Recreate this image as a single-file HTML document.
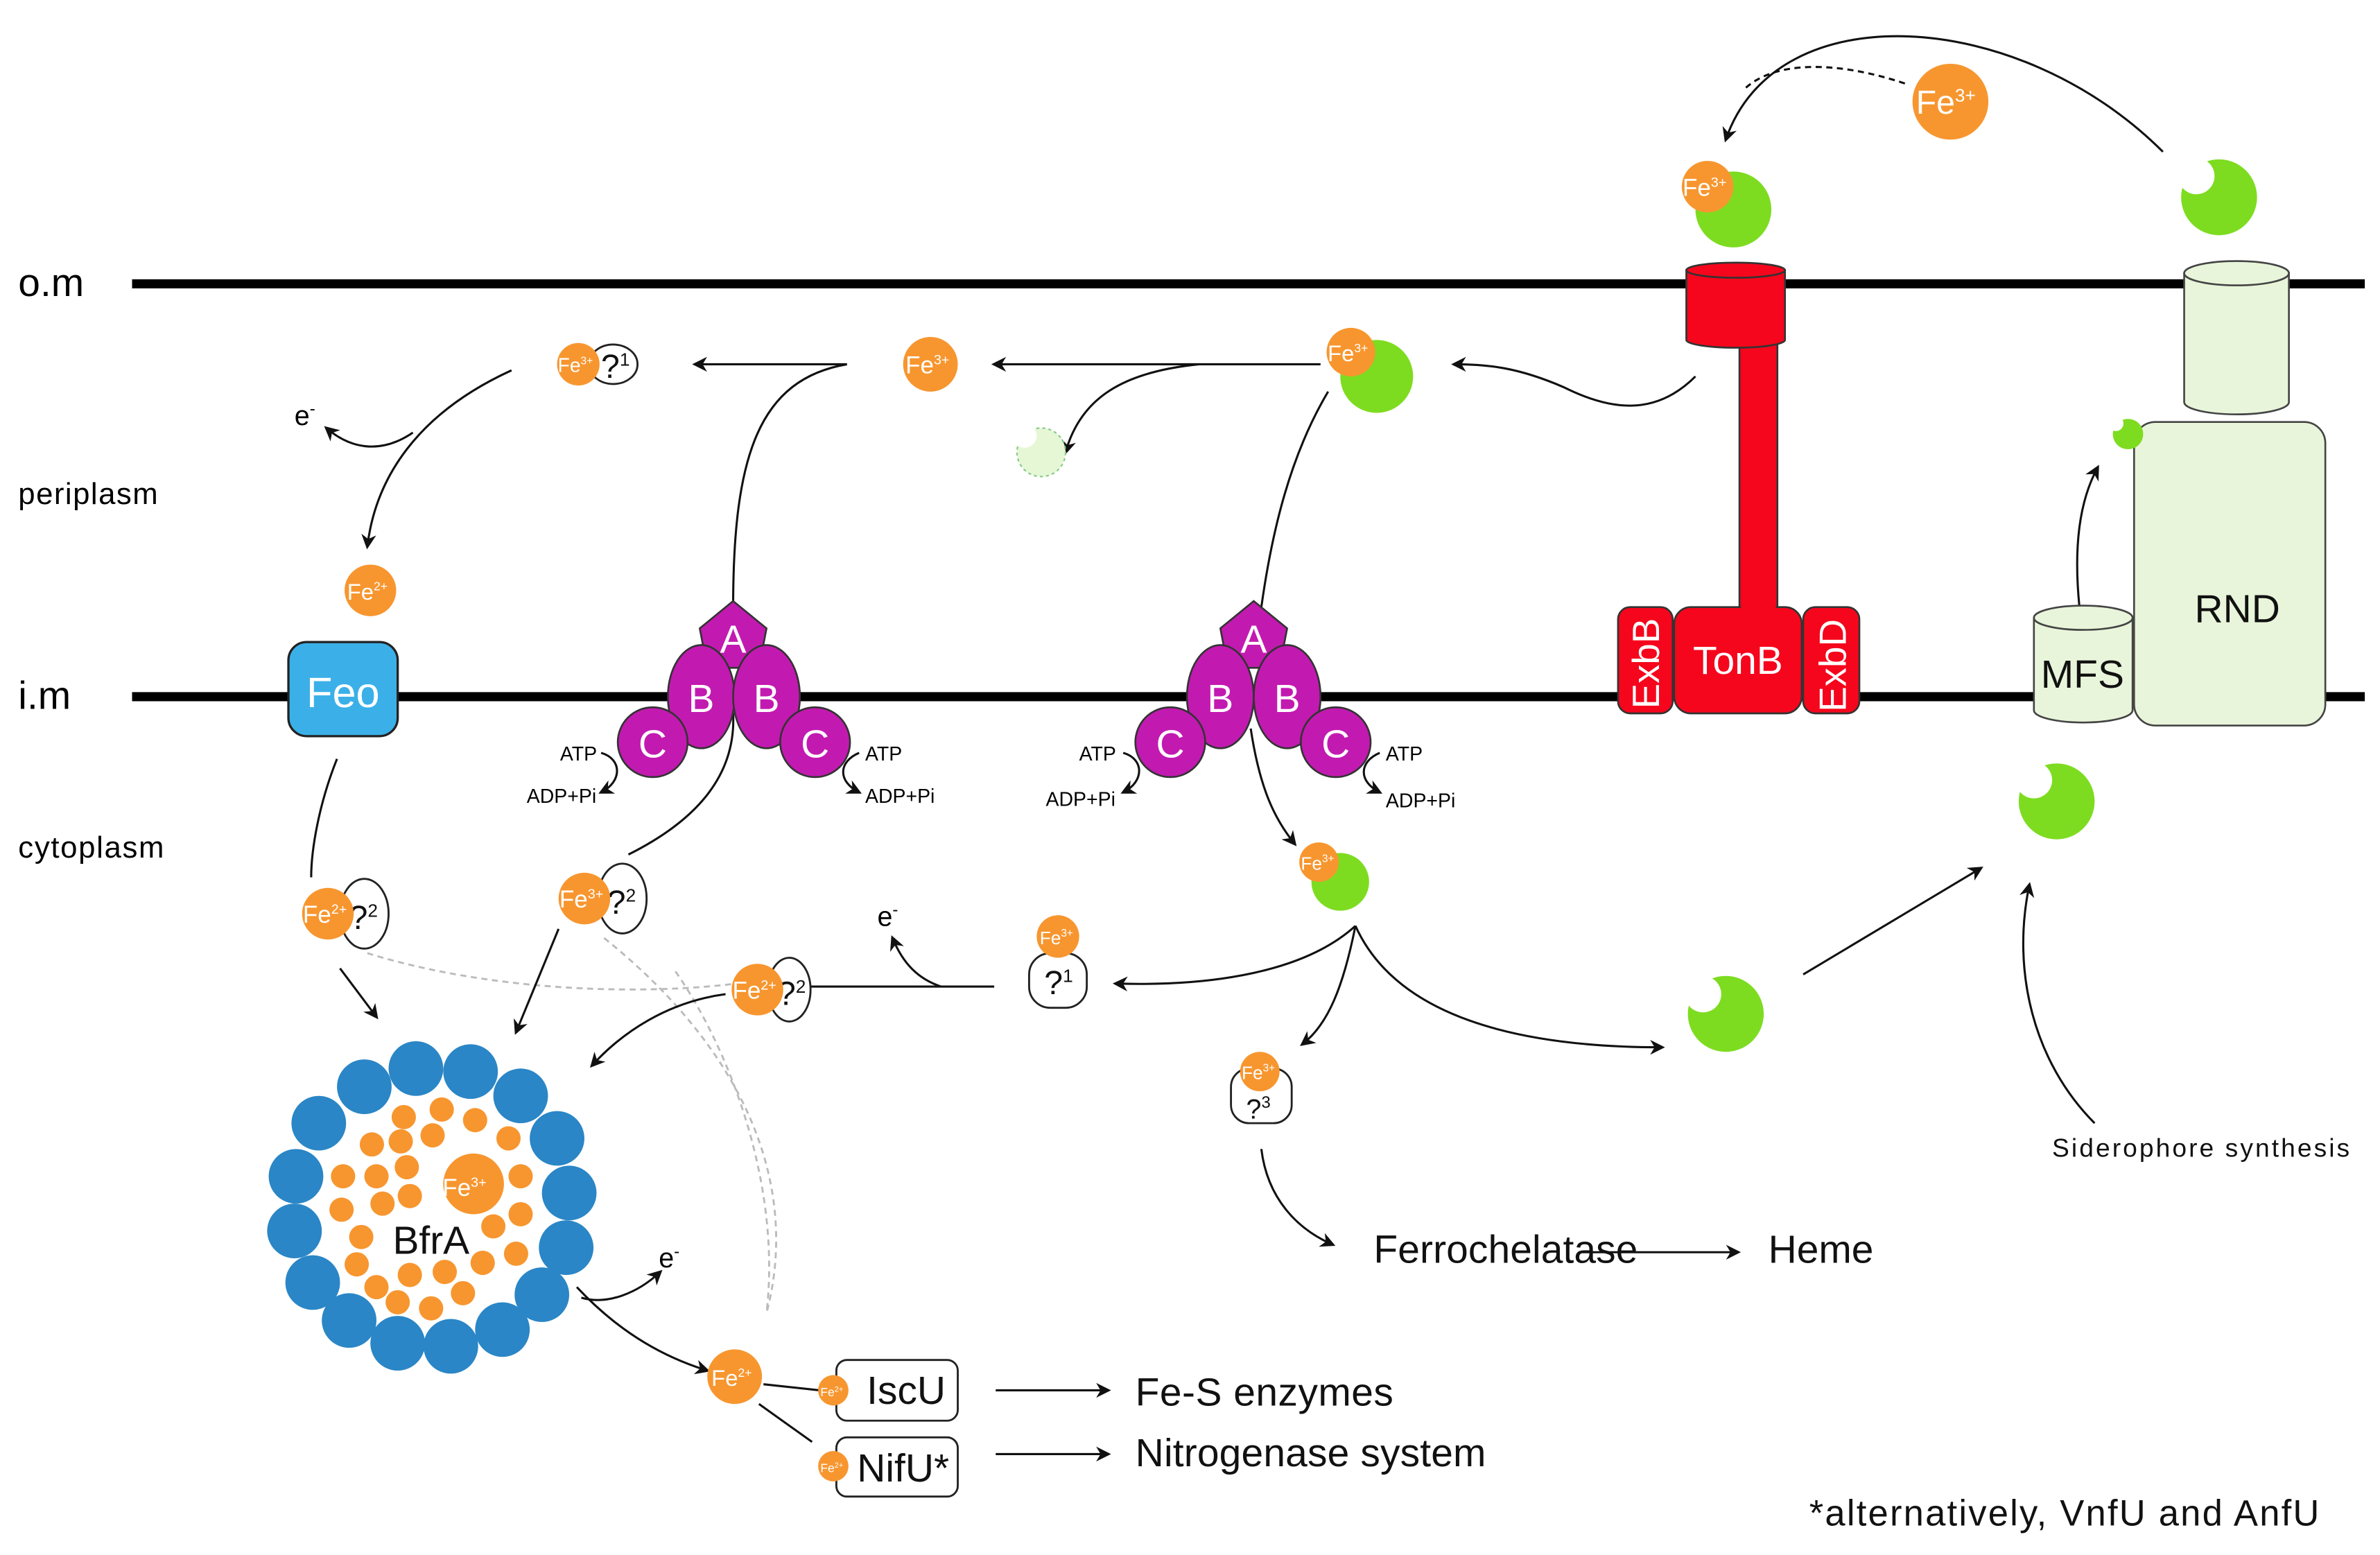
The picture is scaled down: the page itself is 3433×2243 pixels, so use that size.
<!DOCTYPE html>
<html><head><meta charset="utf-8"><style>
html,body{margin:0;padding:0;background:#fff;}
svg{display:block;}
text{font-family:"Liberation Sans",sans-serif;}
</style></head><body>
<svg width="3433" height="2243" viewBox="0 0 1568 1024.5" xmlns="http://www.w3.org/2000/svg">
<defs>
<marker id="ah" viewBox="0 0 10 10" refX="8" refY="5" markerWidth="7" markerHeight="7" orient="auto-start-reverse"><path d="M0,0 L10,5 L0,10 L3,5 z" fill="#111"/></marker>
</defs>
<rect width="1568" height="1025" fill="#fff"/>
<rect x="87" y="184" width="1471" height="6" fill="#000"/>
<rect x="87" y="456" width="1471" height="6" fill="#000"/>
<text x="12" y="195" font-size="26">o.m</text>
<text x="12" y="332" font-size="20" textLength="92">periplasm</text>
<text x="12" y="467" font-size="26">i.m</text>
<text x="12" y="565" font-size="20" textLength="96">cytoplasm</text>

<g fill="none" stroke="#bbb" stroke-width="1.3" stroke-dasharray="4,3">
<path d="M242,628 C330,655 430,655 485,648"/>
<path d="M398,618 C500,700 525,790 505,865"/>
<path d="M445,640 C480,690 515,780 505,865"/>
</g>

<g fill="none" stroke="#111" stroke-width="1.4">
<path d="M558,240 L458,240" marker-end="url(#ah)"/>
<path d="M558,240 C500,250 483,300 483,400"/>
<path d="M870,240 L655,240" marker-end="url(#ah)"/>
<path d="M790,240 C740,245 712,262 702,298" marker-end="url(#ah)"/>
<path d="M875,258 C850,300 838,350 831,400"/>
<path d="M1117,248 C1090,275 1060,270 1030,255 C1000,242 980,240 958,240" marker-end="url(#ah)"/>
<path d="M1425,100 C1330,5 1170,-5 1137,92" marker-end="url(#ah)"/>
<path d="M1255,55 C1210,40 1170,40 1150,58" stroke-dasharray="4,3"/>
<path d="M337,244 C280,270 248,310 242,360" marker-end="url(#ah)"/>
<path d="M272,285 C250,300 230,295 215,282" marker-end="url(#ah)"/>
<path d="M222,500 C210,530 205,560 205,578"/>
<path d="M224,638 L248,670" marker-end="url(#ah)"/>
<path d="M414,563 C460,540 485,510 483,470"/>
<path d="M368,612 L340,680" marker-end="url(#ah)"/>
<path d="M478,655 C440,660 410,680 390,702" marker-end="url(#ah)"/>
<path d="M533,650 L655,650"/>
<path d="M620,650 C605,645 595,635 588,618" marker-end="url(#ah)"/>
<path d="M893,610 C860,640 800,650 735,648" marker-end="url(#ah)"/>
<path d="M824,480 C830,520 840,540 853,556" marker-end="url(#ah)"/>
<path d="M893,610 C920,670 1000,690 1095,690" marker-end="url(#ah)"/>
<path d="M893,610 C885,650 875,675 858,688" marker-end="url(#ah)"/>
<path d="M831,757 C835,790 855,810 878,820" marker-end="url(#ah)"/>
<path d="M1040,825 L1145,825" marker-end="url(#ah)"/>
<path d="M1188,642 L1305,572" marker-end="url(#ah)"/>
<path d="M1380,740 C1340,700 1325,640 1337,583" marker-end="url(#ah)"/>
<path d="M1370,400 C1366,360 1370,330 1382,308" marker-end="url(#ah)"/>
<path d="M383,855 C400,860 420,852 435,838" marker-end="url(#ah)"/>
<path d="M380,848 C410,880 440,895 466,903" marker-end="url(#ah)"/>
<path d="M503,912 L540,916"/>
<path d="M500,925 L535,950"/>
<path d="M656,916 L730,916" marker-end="url(#ah)"/>
<path d="M656,958 L730,958" marker-end="url(#ah)"/>
<path d="M396,496 C410,500 410,515 396,522" marker-end="url(#ah)"/>
<path d="M566,496 C552,502 552,515 566,522" marker-end="url(#ah)"/>
<path d="M740,496 C754,500 754,515 740,522" marker-end="url(#ah)"/>
<path d="M909,496 C895,502 895,515 909,522" marker-end="url(#ah)"/>
</g>
<g font-size="13" fill="#000">
<text x="369" y="501">ATP</text><text x="347" y="529">ADP+Pi</text>
<text x="570" y="501">ATP</text><text x="570" y="529">ADP+Pi</text>
<text x="711" y="501">ATP</text><text x="689" y="531">ADP+Pi</text>
<text x="913" y="501">ATP</text><text x="913" y="532">ADP+Pi</text>
</g>
<g font-size="18" fill="#000">
<text x="194" y="280">e<tspan dy="-7" font-size="11">-</tspan></text>
<text x="578" y="610">e<tspan dy="-7" font-size="11">-</tspan></text>
<text x="434" y="835">e<tspan dy="-7" font-size="11">-</tspan></text>
</g>

<rect x="190" y="423" width="72" height="62" rx="12" fill="#3bb0e8" stroke="#222" stroke-width="1.5"/>
<text x="226" y="466" font-size="28" fill="#fff" text-anchor="middle">Feo</text>

<g fill="#c21ab0" stroke="#333" stroke-width="1.2">
<path d="M483,396 L505,414 L500,440 L466,440 L461,414 z"/>
<ellipse cx="462" cy="459" rx="22" ry="34"/><ellipse cx="505" cy="459" rx="22" ry="34"/>
<circle cx="430" cy="489" r="23"/><circle cx="537" cy="489" r="23"/>
<path d="M826,396 L848,414 L843,440 L809,440 L804,414 z"/>
<ellipse cx="804" cy="459" rx="22" ry="34"/><ellipse cx="848" cy="459" rx="22" ry="34"/>
<circle cx="771" cy="489" r="23"/><circle cx="880" cy="489" r="23"/>
</g>
<g fill="#fff" font-size="26" text-anchor="middle">
<text x="483" y="430">A</text><text x="462" y="469">B</text><text x="505" y="469">B</text><text x="430" y="499">C</text><text x="537" y="499">C</text>
<text x="826" y="430">A</text><text x="804" y="469">B</text><text x="848" y="469">B</text><text x="771" y="499">C</text><text x="880" y="499">C</text>
</g>

<g fill="#f5061c" stroke="#333" stroke-width="1.2">
<rect x="1146" y="225" width="25" height="185"/>
<path d="M1111,178 L1111,224 A32,5 0 0 0 1176,224 L1176,178 Z"/>
<ellipse cx="1143.5" cy="178" rx="32.5" ry="5"/>
<rect x="1066" y="400" width="36" height="70" rx="8"/>
<rect x="1103" y="400" width="84" height="70" rx="11"/>
<rect x="1188" y="400" width="37" height="70" rx="8"/>
</g>
<rect x="1147" y="398" width="23" height="6" fill="#f5061c"/>
<text x="1145" y="444" font-size="26" fill="#fff" text-anchor="middle">TonB</text>
<text transform="translate(1093,467) rotate(-90)" font-size="25" fill="#fff">ExbB</text>
<text transform="translate(1216,469) rotate(-90)" font-size="25" fill="#fff">ExbD</text>

<g fill="#e8f5da" stroke="#444" stroke-width="1.2">
<rect x="1406" y="278" width="126" height="200" rx="14"/>
<path d="M1439,180 L1439,265 A34.5,8 0 0 0 1508,265 L1508,180 Z"/>
<ellipse cx="1473.5" cy="180" rx="34.5" ry="8"/>
<path d="M1340,407 L1340,468 A32.5,8 0 0 0 1405,468 L1405,407 Z"/>
<ellipse cx="1372.5" cy="407" rx="32.5" ry="8"/>
</g>
<text x="1474" y="410" font-size="26" fill="#111" text-anchor="middle">RND</text>
<text x="1372" y="453" font-size="26" fill="#111" text-anchor="middle">MFS</text>

<g fill="#7ddc20">
<circle cx="1142" cy="138" r="25"/>
<circle cx="1462" cy="130" r="25"/>
<circle cx="907" cy="248" r="24"/>
<circle cx="1355" cy="528" r="25"/>
<circle cx="1137" cy="668" r="25"/>
<circle cx="883" cy="581" r="19"/>
<circle cx="1402" cy="286" r="10"/>
</g>
<circle cx="686" cy="298" r="16" fill="#e6f7d6" stroke="#8c8" stroke-dasharray="2,2"/>
<g fill="#fff">
<circle cx="1447" cy="116" r="12"/>
<circle cx="1340" cy="514" r="12"/>
<circle cx="1122" cy="655" r="12"/>
<circle cx="1394" cy="279" r="5"/>
<circle cx="675" cy="287" r="8"/>
</g>

<g fill="#fff" stroke="#222" stroke-width="1.3">
<ellipse cx="404" cy="240" rx="16" ry="13"/>
<ellipse cx="240" cy="602" rx="16" ry="23"/>
<ellipse cx="410" cy="592" rx="16" ry="23"/>
<ellipse cx="520" cy="652" rx="14" ry="21"/>
<rect x="678" y="628" width="38" height="36" rx="14"/>
<rect x="811" y="704" width="40" height="36" rx="12"/>
<rect x="551" y="896" width="80" height="40" rx="7"/>
<rect x="551" y="947" width="80" height="39" rx="7"/>
</g>
<g font-size="22" fill="#111">
<text x="396" y="249">?<tspan font-size="12" dy="-8">1</tspan></text>
<text x="230" y="612">?<tspan font-size="12" dy="-8">2</tspan></text>
<text x="400" y="602">?<tspan font-size="12" dy="-8">2</tspan></text>
<text x="512" y="662">?<tspan font-size="12" dy="-8">2</tspan></text>
<text x="688" y="655">?<tspan font-size="12" dy="-8">1</tspan></text>
<text x="821" y="737" font-size="18">?<tspan font-size="11" dy="-7">3</tspan></text>
</g>
<text x="597" y="925" font-size="26" fill="#111" text-anchor="middle">IscU</text>
<text x="595" y="976" font-size="26" fill="#111" text-anchor="middle">NifU*</text>

<g fill="#2a86c6">
<circle cx="210" cy="740" r="18"/><circle cx="240" cy="716" r="18"/><circle cx="274" cy="704" r="18"/><circle cx="310" cy="706" r="18"/><circle cx="343" cy="722" r="18"/><circle cx="367" cy="750" r="18"/><circle cx="375" cy="786" r="18"/><circle cx="373" cy="822" r="18"/><circle cx="357" cy="853" r="18"/><circle cx="331" cy="876" r="18"/><circle cx="297" cy="887" r="18"/><circle cx="262" cy="885" r="18"/><circle cx="230" cy="870" r="18"/><circle cx="206" cy="845" r="18"/><circle cx="194" cy="811" r="18"/><circle cx="195" cy="775" r="18"/>
</g>
<g fill="#f7962f">
<circle cx="266" cy="736" r="8"/><circle cx="291" cy="731" r="8"/><circle cx="313" cy="738" r="8"/><circle cx="335" cy="750" r="8"/><circle cx="245" cy="754" r="8"/><circle cx="264" cy="752" r="8"/><circle cx="285" cy="748" r="8"/><circle cx="226" cy="775" r="8"/><circle cx="248" cy="775" r="8"/><circle cx="268" cy="769" r="8"/><circle cx="343" cy="775" r="8"/><circle cx="225" cy="797" r="8"/><circle cx="252" cy="793" r="8"/><circle cx="270" cy="788" r="8"/><circle cx="343" cy="800" r="8"/><circle cx="238" cy="815" r="8"/><circle cx="325" cy="808" r="8"/><circle cx="235" cy="833" r="8"/><circle cx="340" cy="826" r="8"/><circle cx="248" cy="848" r="8"/><circle cx="270" cy="840" r="8"/><circle cx="293" cy="838" r="8"/><circle cx="318" cy="832" r="8"/><circle cx="262" cy="858" r="8"/><circle cx="284" cy="862" r="8"/><circle cx="305" cy="852" r="8"/><circle cx="312" cy="780" r="20"/>
</g>
<text x="306" y="788" font-size="16" fill="#fff" text-anchor="middle">Fe<tspan font-size="9" dy="-6">3+</tspan></text>
<text x="284" y="826" font-size="26" fill="#111" text-anchor="middle">BfrA</text>

<g fill="#f7962f">
<circle cx="1285" cy="67" r="25"/>
<circle cx="1125" cy="123" r="17"/>
<circle cx="890" cy="232" r="16"/>
<circle cx="613" cy="240" r="18"/>
<circle cx="381" cy="240" r="14"/>
<circle cx="244" cy="389" r="17"/>
<circle cx="216" cy="602" r="17"/>
<circle cx="385" cy="592" r="17"/>
<circle cx="499" cy="652" r="17"/>
<circle cx="697" cy="617" r="14"/>
<circle cx="830" cy="706" r="13"/>
<circle cx="869" cy="568" r="13"/>
<circle cx="484" cy="907" r="18"/>
<circle cx="549" cy="916" r="10"/>
<circle cx="549" cy="966" r="10"/>
</g>
<g fill="#fff" text-anchor="middle">
<text x="1282" y="75" font-size="22">Fe<tspan font-size="12" dy="-8">3+</tspan></text>
<text x="1123" y="129" font-size="16">Fe<tspan font-size="9" dy="-6">3+</tspan></text>
<text x="888" y="238" font-size="15">Fe<tspan font-size="8" dy="-6">3+</tspan></text>
<text x="611" y="246" font-size="16">Fe<tspan font-size="9" dy="-6">3+</tspan></text>
<text x="379" y="245" font-size="13">Fe<tspan font-size="7" dy="-5">3+</tspan></text>
<text x="242" y="395" font-size="15">Fe<tspan font-size="8" dy="-6">2+</tspan></text>
<text x="214" y="608" font-size="16">Fe<tspan font-size="9" dy="-6">2+</tspan></text>
<text x="383" y="598" font-size="16">Fe<tspan font-size="9" dy="-6">3+</tspan></text>
<text x="497" y="658" font-size="16">Fe<tspan font-size="9" dy="-6">2+</tspan></text>
<text x="696" y="622" font-size="12">Fe<tspan font-size="7" dy="-5">3+</tspan></text>
<text x="829" y="711" font-size="12">Fe<tspan font-size="7" dy="-5">3+</tspan></text>
<text x="868" y="573" font-size="12">Fe<tspan font-size="7" dy="-5">3+</tspan></text>
<text x="482" y="913" font-size="15">Fe<tspan font-size="8" dy="-6">2+</tspan></text>
<text x="548" y="920" font-size="8">Fe<tspan font-size="5" dy="-3">2+</tspan></text>
<text x="548" y="970" font-size="8">Fe<tspan font-size="5" dy="-3">2+</tspan></text>
</g>

<g fill="#111">
<text x="905" y="832" font-size="26" textLength="174">Ferrochelatase</text>
<text x="1165" y="832" font-size="26">Heme</text>
<text x="748" y="926" font-size="26" textLength="170">Fe-S enzymes</text>
<text x="748" y="966" font-size="26" textLength="231">Nitrogenase system</text>
<text x="1192" y="1005" font-size="24" textLength="336">*alternatively, VnfU and AnfU</text>
<text x="1352" y="762" font-size="17" textLength="196">Siderophore synthesis</text>
</g>
</svg>
</body></html>
